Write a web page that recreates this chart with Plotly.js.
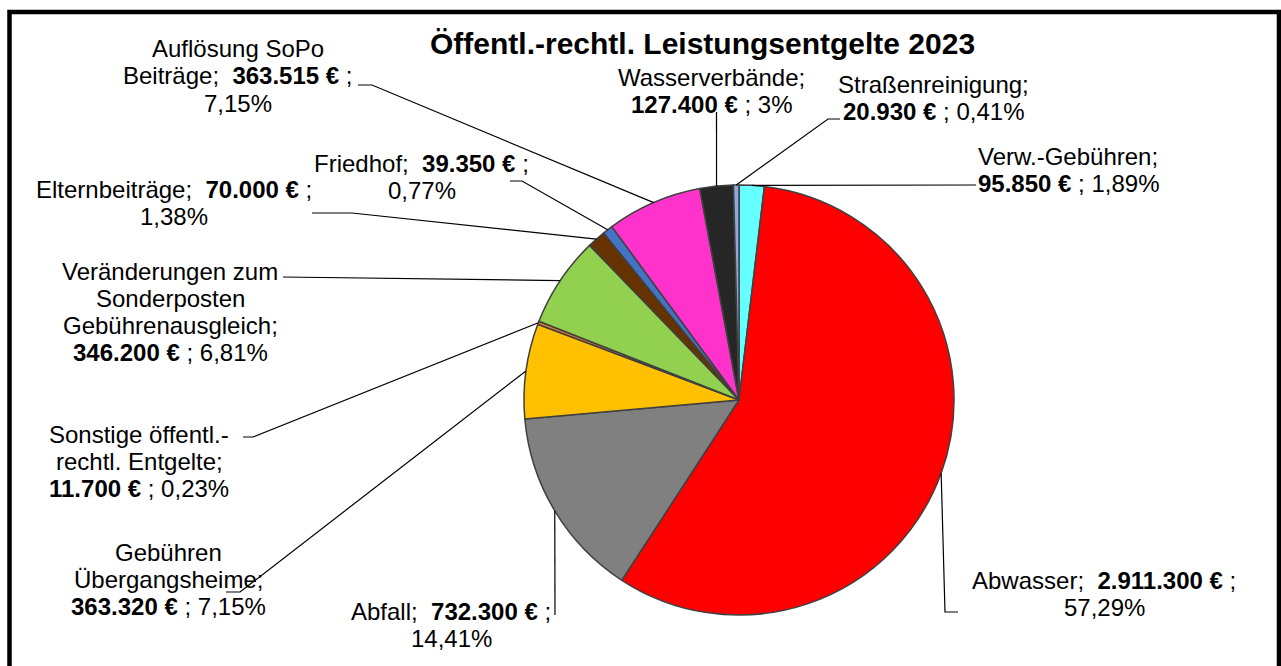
<!DOCTYPE html>
<html>
<head>
<meta charset="utf-8">
<script src="https://cdn.plot.ly/plotly-3.0.1.min.js"></script>
<style>html,body{margin:0;padding:0;background:#fff;}#chart{width:1281px;height:666px;}</style>
</head>
<body>
<div id="chart"></div>
<script>
// ---------- data ----------
const categories = ["Verw.-Gebühren", "Abwasser", "Abfall", "Gebühren Übergangsheime",
  "Sonstige öffentl.-rechtl. Entgelte", "Veränderungen zum Sonderposten Gebührenausgleich",
  "Elternbeiträge", "Friedhof", "Auflösung SoPo Beiträge", "Wasserverbände", "Straßenreinigung"];
const values = [95850, 2911300, 732300, 363320, 11700, 346200, 70000, 39350, 363515, 127400, 20930];
const percentLabels = ["1,89%", "57,29%", "14,41%", "7,15%", "0,23%", "6,81%", "1,38%", "0,77%", "7,15%", "3%", "0,41%"];
const chartTitle = "Öffentl.-rechtl. Leistungsentgelte 2023";

// ---------- style / layout ----------
const colors = ["#66FFFF", "#FF0000", "#808080", "#FFC000", "#ED7D31", "#92D050",
  "#663300", "#4472C4", "#FF33CC", "#262626", "#8EA9DB"];
const W = 1281, H = 666;
const CX = 739, CY = 400, R = 215;
const NB = "\u00A0";
// label line templates ({v} = value, {p} = percent)
const labelLines = [
  ["Verw.-Gebühren;", "<b>{v}</b> ; {p}"],
  ["Abwasser;" + NB + " <b>{v}</b> ;", "{p}"],
  ["Abfall;" + NB + " <b>{v}</b> ;", "{p}"],
  ["Gebühren", "Übergangsheime;", "<b>{v}</b> ; {p}"],
  ["Sonstige öffentl.-", "rechtl. Entgelte;", "<b>{v}</b> ; {p}"],
  ["Veränderungen zum", "Sonderposten", "Gebührenausgleich;", "<b>{v}</b> ; {p}"],
  ["Elternbeiträge;" + NB + " <b>{v}</b> ;", "{p}"],
  ["Friedhof;" + NB + " <b>{v}</b> ;", "{p}"],
  ["Auflösung SoPo", "Beiträge;" + NB + " <b>{v}</b> ;", "{p}"],
  ["Wasserverbände;", "<b>{v}</b> ; {p}"],
  ["Straßenreinigung;", "<b>{v}</b> ; {p}"]
];
// label block: center x, first line y (pixels)
const labelPos = [
  [1068, 156], [1104, 580], [451, 611], [168, 552], [139, 434], [170, 271],
  [174, 189], [422, 163], [238, 49], [712, 77], [933, 85]
];
// leader line points on the label side (pixels), the slice end is computed
const leaderPts = [
  [[976, 185]],
  [[958, 612], [945, 612]],
  [[555, 615]],
  [[226, 592], [240, 592]],
  [[243, 437], [253, 437]],
  [[283, 277]],
  [[312, 213], [352, 213]],
  [[510, 181], [522, 181]],
  [[358, 85], [372, 85]],
  [[716.5, 112]],
  [[840, 119], [828, 119]]
];
const LINE_GAP = 27;
const FONT = "Liberation Sans, Arial, sans-serif";

function fmtEuro(v) {
  return String(v).replace(/\B(?=(\d{3})+(?!\d))/g, ".") + " €";
}
const px = x => x / W;
const py = y => 1 - y / H;

const total = values.reduce((a, b) => a + b, 0);
let cum = 0;
const midAngles = values.map(v => { const a = (cum + v / 2) / total * 2 * Math.PI; cum += v; return a; });

const annotations = [];
annotations.push({
  xref: "paper", yref: "paper", x: px(702), y: py(44), xanchor: "center", yanchor: "middle",
  text: "<b>" + chartTitle + "</b>", showarrow: false,
  font: {family: FONT, size: 30, color: "#000"}
});
labelLines.forEach((lines, i) => {
  const [lx, ly] = labelPos[i];
  lines.forEach((t, k) => {
    annotations.push({
      xref: "paper", yref: "paper", x: px(lx), y: py(ly + k * LINE_GAP),
      xanchor: "center", yanchor: "middle", showarrow: false,
      text: t.replace("{v}", fmtEuro(values[i])).replace("{p}", percentLabels[i]),
      font: {family: FONT, size: 24, color: "#000"}
    });
  });
});

const shapes = [];
shapes.push({type: "rect", xref: "paper", yref: "paper", x0: px(9.5), y0: py(12), x1: px(1279), y1: py(672),
  line: {color: "#000", width: 4.5}, fillcolor: "rgba(0,0,0,0)"});
leaderPts.forEach((pts, i) => {
  const a = midAngles[i];
  const ex = CX + R * Math.sin(a), ey = CY - R * Math.cos(a);
  const all = pts.concat([[ex, ey]]);
  const path = all.map((p, k) => (k ? "L" : "M") + px(p[0]).toFixed(5) + "," + py(p[1]).toFixed(5)).join(" ");
  shapes.push({type: "path", xref: "paper", yref: "paper", path: path, line: {color: "#000", width: 1.2}});
});

const trace = {
  type: "pie",
  labels: categories,
  values: values,
  sort: false,
  direction: "clockwise",
  rotation: 0,
  textinfo: "none",
  hoverinfo: "label+value+percent",
  marker: {colors: colors, line: {color: "#404040", width: 1.5}},
  domain: {x: [px(CX - R), px(CX + R)], y: [py(CY + R), py(CY - R)]},
  showlegend: false
};

const layout = {
  width: W, height: H,
  margin: {l: 0, r: 0, t: 0, b: 0},
  paper_bgcolor: "#fff",
  showlegend: false,
  annotations: annotations,
  shapes: shapes
};
Plotly.newPlot("chart", [trace], layout, {staticPlot: true, displayModeBar: false});
</script>
</body>
</html>
